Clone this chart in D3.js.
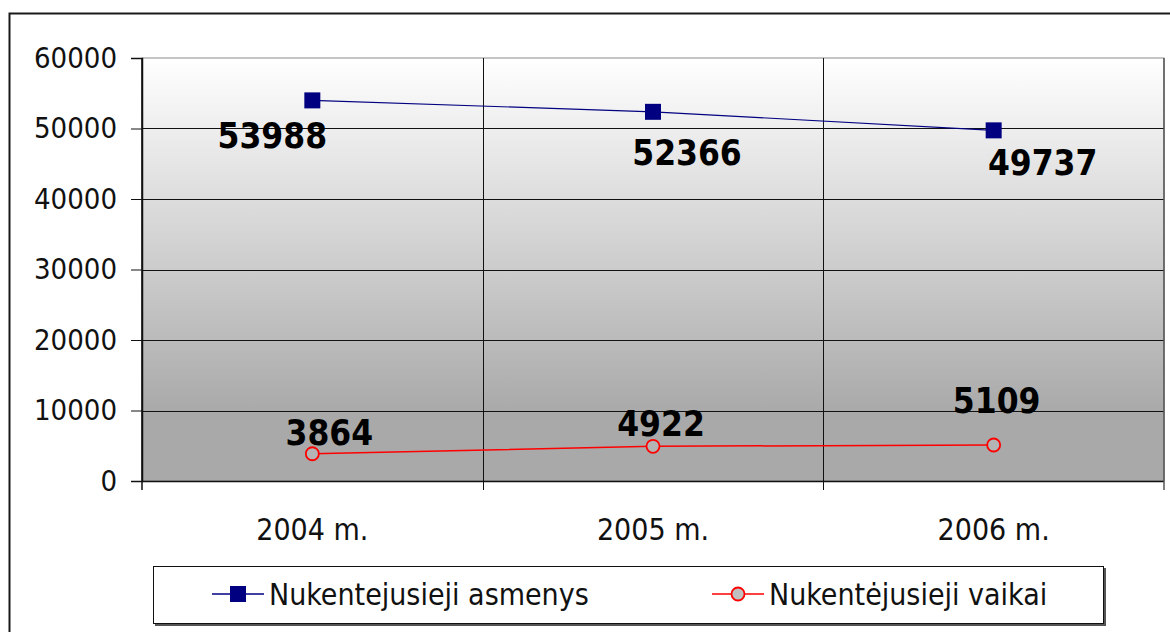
<!DOCTYPE html>
<html>
<head>
<meta charset="utf-8">
<script src="https://cdn.jsdelivr.net/npm/d3@7"></script>
<style>
  body { margin: 0; background: #fff; }
  svg text { font-family: "DejaVu Sans Condensed", "DejaVu Sans", sans-serif; }
</style>
</head>
<body>
<div id="chart"></div>
<script>
// data
var years = ["2004 m.", "2005 m.", "2006 m."];
var asmenys = [53988, 52366, 49737];
var vaikai = [3864, 4922, 5109];
var seriesNames = ["Nukentejusieji asmenys", "Nukentėjusieji vaikai"];
var yTicks = [0, 10000, 20000, 30000, 40000, 50000, 60000];

// label nudges (dx, dy) from the point, like excel placed them
var nudgeA = [[-40, 48], [34, 53], [49, 45]];
var nudgeV = [[17, -9], [8, -10], [3, -32]];

var W = 1170, H = 632;
var margin = { top: 58, right: 6, bottom: 151, left: 142 };
var width = W - margin.left - margin.right,
    height = H - margin.top - margin.bottom;

var svg = d3.select("#chart").append("svg")
  .attr("width", W)
  .attr("height", H);

// outer frame (cut off at right and bottom)
svg.append("rect")
  .attr("x", 9.5).attr("y", 13.5)
  .attr("width", 1300).attr("height", 800)
  .attr("fill", "none")
  .attr("stroke", "#1a1a1a")
  .attr("stroke-width", 2);

var grad = svg.append("defs").append("linearGradient")
  .attr("id", "bg")
  .attr("x1", 0).attr("y1", 0).attr("x2", 0).attr("y2", 1);
grad.append("stop").attr("offset", "0%").attr("stop-color", "#ffffff");
grad.append("stop").attr("offset", "84%").attr("stop-color", "#a9a9a9");
grad.append("stop").attr("offset", "100%").attr("stop-color", "#a9a9a9");

var g = svg.append("g")
  .attr("transform", "translate(" + margin.left + "," + margin.top + ")");

var x = d3.scaleBand().domain(years).range([0, width]);
var y = d3.scaleLinear().domain([0, 60000]).range([height, 0]);

g.append("rect")
  .attr("width", width).attr("height", height)
  .attr("fill", "url(#bg)")
  .attr("stroke", "#8c8c8c");

// horizontal grid
g.selectAll(".hgrid")
  .data(yTicks.filter(function(d){ return d > 0 && d < 60000; }))
  .enter().append("line")
  .attr("x1", 0).attr("x2", width)
  .attr("y1", function(d){ return Math.round(y(d)) + 0.5; })
  .attr("y2", function(d){ return Math.round(y(d)) + 0.5; })
  .attr("stroke", "#111");

// vertical grid between categories
g.selectAll(".vgrid")
  .data(years.slice(1))
  .enter().append("line")
  .attr("x1", function(d){ return Math.round(x(d)) + 0.5; })
  .attr("x2", function(d){ return Math.round(x(d)) + 0.5; })
  .attr("y1", 0).attr("y2", height + 9)
  .attr("stroke", "#111");

// y axis
var yAxis = d3.axisLeft(y).tickValues(yTicks).tickFormat(d3.format("d"))
  .tickSize(11).tickPadding(14);
var ya = g.append("g").call(yAxis);
ya.select(".domain").attr("stroke", "#111").attr("stroke-width", 1.5);
ya.selectAll(".tick line").attr("stroke", "#111");
ya.selectAll("text").attr("font-size", 29).attr("fill", "#111")
  .attr("font-family", "'DejaVu Sans Condensed', sans-serif");

// x axis
g.append("line")
  .attr("x1", 0).attr("x2", width)
  .attr("y1", height + 0.5).attr("y2", height + 0.5)
  .attr("stroke", "#111").attr("stroke-width", 1.5);
g.selectAll(".xtick")
  .data([0, width])
  .enter().append("line")
  .attr("x1", function(d){ return d; }).attr("x2", function(d){ return d; })
  .attr("y1", 0).attr("y2", height + 9)
  .attr("stroke", function(d){ return d === 0 ? "#111" : "#555"; })
  .attr("stroke-width", 1.5);
g.selectAll(".xlab")
  .data(years)
  .enter().append("text")
  .attr("x", function(d){ return x(d) + x.bandwidth() / 2; })
  .attr("y", height + 59)
  .attr("text-anchor", "middle")
  .attr("font-size", 30)
  .attr("fill", "#111")
  .text(function(d){ return d; });

function cx(i){ return x(years[i]) + x.bandwidth() / 2; }

var line = d3.line()
  .x(function(d, i){ return cx(i); })
  .y(function(d){ return y(d); });

// asmenys
g.append("path").datum(asmenys)
  .attr("d", line).attr("fill", "none")
  .attr("stroke", "#000080").attr("stroke-width", 1.2);
g.selectAll(".sq").data(asmenys).enter().append("rect")
  .attr("x", function(d, i){ return cx(i) - 8; })
  .attr("y", function(d){ return y(d) - 8; })
  .attr("width", 16).attr("height", 16)
  .attr("fill", "#000080");

// vaikai
g.append("path").datum(vaikai)
  .attr("d", line).attr("fill", "none")
  .attr("stroke", "#ff0000").attr("stroke-width", 1.5);
g.selectAll(".ci").data(vaikai).enter().append("circle")
  .attr("cx", function(d, i){ return cx(i); })
  .attr("cy", function(d){ return y(d); })
  .attr("r", 6.5)
  .attr("fill", "#b4b4b4")
  .attr("stroke", "#ff0000").attr("stroke-width", 1.8);

// data labels
function labels(data, nudge){
  g.selectAll(null).data(data).enter().append("text")
    .attr("x", function(d, i){ return cx(i) + nudge[i][0]; })
    .attr("y", function(d, i){ return y(d) + nudge[i][1]; })
    .attr("text-anchor", "middle")
    .attr("font-family", "'DejaVu Sans', sans-serif")
    .attr("font-weight", "bold")
    .attr("font-size", 35)
    .attr("fill", "#000")
    .text(function(d){ return d; });
}
labels(asmenys, nudgeA);
labels(vaikai, nudgeV);

// legend
var lg = svg.append("g");
lg.append("rect")
  .attr("x", 155).attr("y", 568).attr("width", 951).attr("height", 58)
  .attr("fill", "#555");
lg.append("rect")
  .attr("x", 153.5).attr("y", 566.5).attr("width", 950).attr("height", 57)
  .attr("fill", "#fff").attr("stroke", "#111").attr("stroke-width", 1);

var leg = lg.selectAll(".item").data(seriesNames).enter().append("g")
  .attr("transform", function(d, i){ return "translate(" + (i === 0 ? 212 : 712) + ",594)"; });
leg.append("line")
  .attr("x1", 0).attr("x2", 52)
  .attr("stroke", function(d, i){ return i === 0 ? "#000080" : "#ff0000"; })
  .attr("stroke-width", 1.5);
leg.filter(function(d, i){ return i === 0; }).append("rect")
  .attr("x", 18).attr("y", -8).attr("width", 16).attr("height", 16)
  .attr("fill", "#000080");
leg.filter(function(d, i){ return i === 1; }).append("circle")
  .attr("cx", 26).attr("r", 6.5)
  .attr("fill", "#c0c0c0").attr("stroke", "#ff0000").attr("stroke-width", 1.8);
leg.append("text")
  .attr("x", 57).attr("y", 11)
  .attr("font-family", "'DejaVu Sans Condensed', sans-serif")
  .attr("font-size", 30)
  .attr("fill", "#111")
  .text(function(d){ return d; });
</script>
</body>
</html>
